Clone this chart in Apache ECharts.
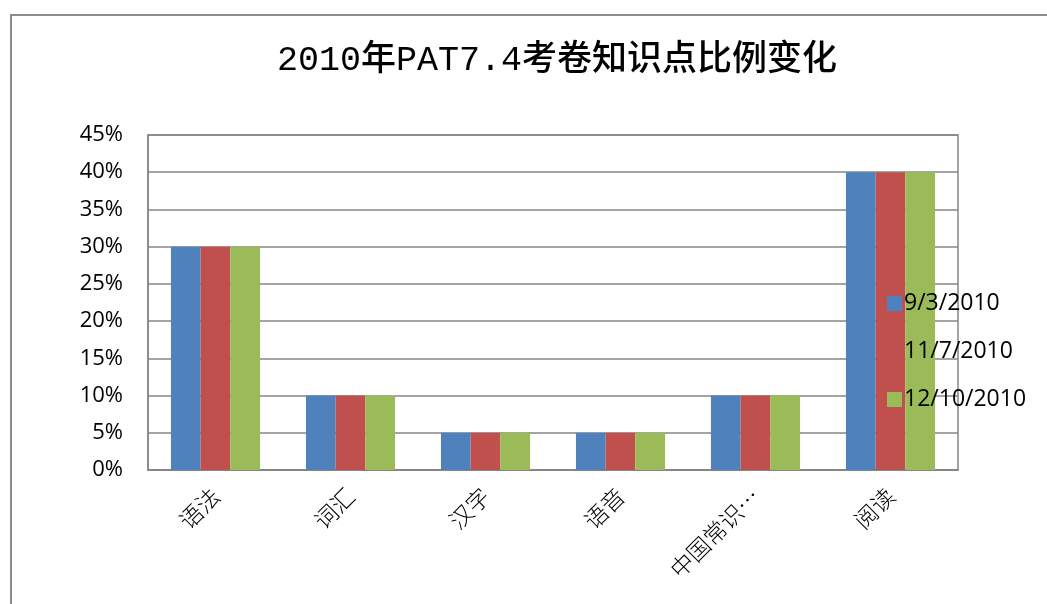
<!DOCTYPE html>
<html>
<head>
<meta charset="utf-8">
<script src="https://cdn.jsdelivr.net/npm/echarts@6/dist/echarts.min.js"></script>
<style>
  html, body { margin: 0; padding: 0; background: #fff; }
  #chart { width: 1047px; height: 604px; }
</style>
</head>
<body>
<div id="chart"></div>
<script>
const categories = ['语法', '词汇', '汉字', '语音', '中国常识…', '阅读']
const seriesNames = ['9/3/2010', '11/7/2010', '12/10/2010']
const sep2010 = [0.30, 0.10, 0.05, 0.05, 0.10, 0.40]
const nov2010 = [0.30, 0.10, 0.05, 0.05, 0.10, 0.40]
const dec2010 = [0.30, 0.10, 0.05, 0.05, 0.10, 0.40]

const chart = echarts.init(document.getElementById('chart'))

const option = {
  animation: false,
  color: ['#4F81BD', '#C0504D', '#9BBB59'],
  title: {
    text: '2010年PAT7.4考卷知识点比例变化',
    left: 552,
    top: 38,
    textAlign: 'center',
    textStyle: {
      fontFamily: '"Liberation Mono", "Noto Sans CJK SC", monospace',
      fontWeight: 500,
      fontSize: 35,
      color: '#000',
    },
  },
  legend: {
    orient: 'vertical',
    left: 882,
    top: 287,
    itemWidth: 15,
    itemHeight: 15,
    itemGap: 25,
    icon: 'rect',
    textStyle: {
      fontFamily: '"Open Sans", "Liberation Sans", sans-serif',
      fontSize: 23,
      color: '#000',
      padding: [0, 0, 0, -3],
    },
    data: seriesNames,
  },
  grid: {
    left: 148,
    top: 135,
    width: 810,
    height: 335,
    show: true,
    borderColor: '#868686',
    borderWidth: 1.5,
    backgroundColor: 'transparent',
  },
  xAxis: {
    type: 'category',
    data: categories,
    axisLine: { lineStyle: { color: '#868686', width: 2 } },
    axisTick: { show: false },
    axisLabel: {
      rotate: 45,
      interval: 0,
      margin: 22,
      fontFamily: '"Noto Sans CJK SC", sans-serif',
      fontSize: 23,
      fontWeight: 300,
      color: '#000',
    },
  },
  yAxis: {
    type: 'value',
    min: 0,
    max: 0.45,
    interval: 0.05,
    axisLine: { show: true, lineStyle: { color: '#868686', width: 1.5 } },
    axisTick: { show: false },
    splitLine: { lineStyle: { color: '#868686', width: 1.5 } },
    axisLabel: {
      margin: 25,
      fontFamily: '"Open Sans", "Liberation Sans", sans-serif',
      fontSize: 22,
      color: '#000',
      formatter: (v) => `${Math.round(v * 100)}%`,
    },
  },
  series: [
    { name: seriesNames[0], type: 'bar', data: sep2010, barGap: '0%', barCategoryGap: '34%' },
    { name: seriesNames[1], type: 'bar', data: nov2010, barGap: '0%', barCategoryGap: '34%' },
    { name: seriesNames[2], type: 'bar', data: dec2010, barGap: '0%', barCategoryGap: '34%' },
  ],
  graphic: [
    {
      type: 'rect',
      shape: { x: 11, y: 15, width: 1100, height: 700 },
      style: { fill: 'none', stroke: '#8c8c8c', lineWidth: 2 },
      z: -1,
      silent: true,
    },
  ],
}

chart.setOption(option)
</script>
</body>
</html>
